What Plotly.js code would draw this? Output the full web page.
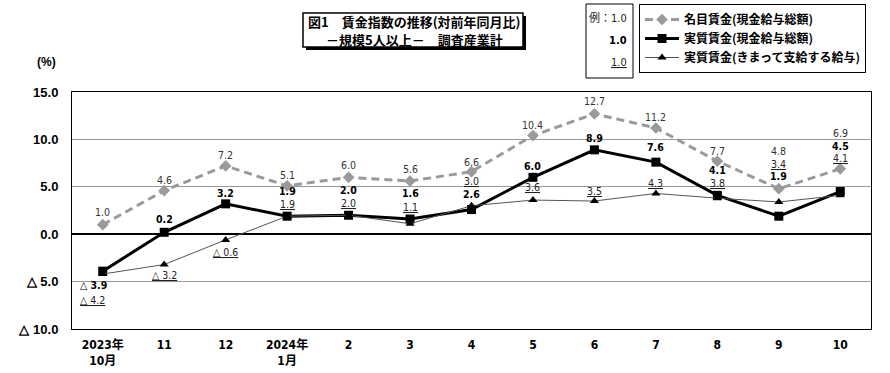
<!DOCTYPE html>
<html><head><meta charset="utf-8">
<script src="https://cdn.plot.ly/plotly-3.0.1.min.js"></script>
<style>html,body{margin:0;padding:0;background:#fff}#chart{width:890px;height:373px}</style>
</head><body><div id="chart"></div>
<script>
// ---- data ----
const months = ['2023年<br>10月','11','12','2024年<br>1月','2','3','4','5','6','7','8','9','10'];
const nominalWage = [1.0,4.6,7.2,5.1,6.0,5.6,6.6,10.4,12.7,11.2,7.7,4.8,6.9];
const realWageTotal = [-3.9,0.2,3.2,1.9,2.0,1.6,2.6,6.0,8.9,7.6,4.1,1.9,4.5];
const realWageRegular = [-4.2,-3.2,-0.6,1.9,2.0,1.1,3.0,3.6,3.5,4.3,3.8,3.4,4.1];
const seriesNames = ['名目賃金(現金給与総額)','実質賃金(現金給与総額)','実質賃金(きまって支給する給与)'];
const titleLines = ['図1　賃金指数の推移(対前年同月比)','－規模5人以上－　調査産業計'];
const yTickVals = [-10,-5,0,5,10,15];
const yTickText = ['△ 10.0','△ 5.0','0.0','5.0','10.0','15.0'];

// ---- label offsets (style, px above point) ----
const nomOff = [13,11,11,11,12,12,10,11,13,11,10,38,36];
const totOff = [-14,13,11,25,25,26,16,11,12,15,25,40,46];
const regOff = [-26,-10,-12,12,12,17,25,13,10,10,15,38,37];

const L=72, R=19, T=92, B=44, W=890, H=373;
const pw = W-L-R, ph = H-T-B;
const px2x = p => (p-L)/pw;
const py2y = p => (H-B-p)/ph;

const JP = '"Noto Sans CJK JP", sans-serif';
const NUM = '"Liberation Sans Narrow", "Arial Narrow", "DejaVu Sans Condensed", "Noto Sans CJK JP", sans-serif';

const fmt = v => v < 0 ? '△ ' + Math.abs(v).toFixed(1) : v.toFixed(1);
const xs = months.map((m,i)=>i);

const traces = [
  {x: xs, y: nominalWage, name: seriesNames[0], mode: 'lines+markers',
   line: {color:'#9a9a9a', width:3, dash:'8px,5px'}, marker:{symbol:'diamond', size:9, color:'#9a9a9a'}},
  {x: xs, y: realWageTotal, name: seriesNames[1], mode: 'lines+markers',
   line: {color:'#000', width:3}, marker:{symbol:'square', size:9, color:'#000'}},
  {x: xs, y: realWageRegular, name: seriesNames[2], mode: 'lines+markers',
   line: {color:'#555', width:1}, marker:{symbol:'triangle-up', size:8, color:'#000'}}
];

const annotations = [];
function addLabels(vals, offs, style, color) {
  vals.forEach((v,i) => {
    let t = fmt(v);
    if (style==='b') t = '<b>'+t+'</b>';
    if (style==='u') t = '<u>'+t+'</u>';
    const a = {x:i, y:v, xref:'x', yref:'y', text:t, showarrow:false, yshift:offs[i],
      xanchor:'center', yanchor:'middle', font:{family:NUM, size:10.5, color:color}};
    if (i===0 && v<0) { a.xanchor='left'; a.xshift=-25; }
    annotations.push(a);
  });
}
addLabels(nominalWage, nomOff, 'n', '#333');
addLabels(realWageTotal, totOff, 'b', '#000');
addLabels(realWageRegular, regOff, 'u', '#222');

// title box (two lines)
[21, 39].forEach((py, k) => {
  annotations.push({xref:'paper', yref:'paper', x:px2x(414), y:py2y(py), xanchor:'center', yanchor:'middle',
    showarrow:false, text:'<b>'+titleLines[k]+'</b>', font:{family:JP, size:13, color:'#000'}});
});
// example box
annotations.push({xref:'paper', yref:'paper', x:px2x(629), y:py2y(17), xanchor:'right', yanchor:'middle', showarrow:false,
  text:'例：<span style="font-family:'+NUM.replace(/"/g,"'")+'">1.0</span>', font:{family:JP, size:11, color:'#222'}});
annotations.push({xref:'paper', yref:'paper', x:px2x(629), y:py2y(40), xanchor:'right', yanchor:'middle', showarrow:false,
  text:'<b>1.0</b>', font:{family:NUM, size:11, color:'#000'}});
annotations.push({xref:'paper', yref:'paper', x:px2x(629), y:py2y(63), xanchor:'right', yanchor:'middle', showarrow:false,
  text:'<u>1.0</u>', font:{family:NUM, size:11, color:'#222'}});
// (%)
annotations.push({xref:'paper', yref:'paper', x:px2x(46), y:py2y(62), xanchor:'center', yanchor:'middle', showarrow:false,
  text:'<b>(%)</b>', font:{family:'"Liberation Sans", Arial, sans-serif', size:12, color:'#000'}});

const shapes = [
  {type:'rect', xref:'paper', yref:'paper', x0:px2x(306), x1:px2x(526), y0:py2y(50), y1:py2y(16), fillcolor:'#000', line:{width:0}},
  {type:'rect', xref:'paper', yref:'paper', x0:px2x(303), x1:px2x(523), y0:py2y(47), y1:py2y(13), fillcolor:'#fff', line:{color:'#000', width:1.5}},
  {type:'rect', xref:'paper', yref:'paper', x0:px2x(586), x1:px2x(633), y0:py2y(78), y1:py2y(4), fillcolor:'#fff', line:{color:'#000', width:1}}
];

const layout = {
  width: W, height: H, margin:{l:L, r:R, t:T, b:B, pad:0, autoexpand:false},
  paper_bgcolor:'#fff', plot_bgcolor:'#fff', showlegend:true,
  font:{family:JP, color:'#000'},
  xaxis:{type:'linear', range:[-0.5,12.5], tickvals:xs, ticktext:months, showgrid:false, zeroline:false,
    showline:true, mirror:true, linecolor:'#000', linewidth:1, ticks:'', ticklabelstandoff:5,
    tickfont:{family:NUM, size:12, weight:'bold', color:'#000'}},
  yaxis:{range:[-10,15], tickvals:yTickVals, ticktext:yTickText, showgrid:true, gridcolor:'#999', gridwidth:1,
    zeroline:true, zerolinecolor:'#000', zerolinewidth:2, showline:true, mirror:true, linecolor:'#000', linewidth:1,
    ticks:'', ticklabelstandoff:10, tickfont:{family:'"Liberation Sans", Arial, sans-serif', size:13, weight:'bold', color:'#000'}},
  legend:{x:px2x(639), y:py2y(4), xanchor:'left', yanchor:'top', bgcolor:'#fff', bordercolor:'#000', borderwidth:1,
    font:{family:JP, size:12, weight:'bold', color:'#000'}, itemwidth:34},
  annotations: annotations, shapes: shapes
};
Plotly.newPlot('chart', traces, layout, {staticPlot:true});
</script></body></html>
